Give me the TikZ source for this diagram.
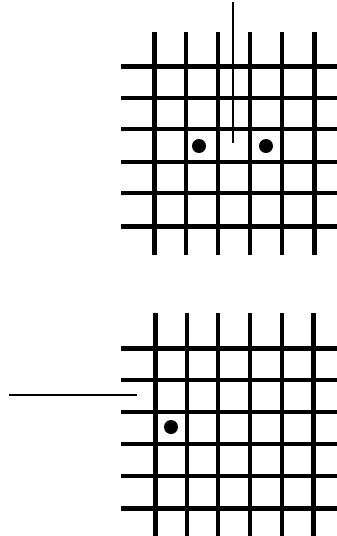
\documentclass[tikz,border=0pt]{standalone}
\begin{document}
\begin{tikzpicture}[x=1pt,y=-1pt,
  gridline/.style={line width=4.3pt,black},
  outerline/.style={line width=5pt,black},
  pointer/.style={line width=1.4pt,black},
  dot/.style={fill=black}]
\useasboundingbox (0,0) rectangle (337,536);
% ---- top grid ----
\foreach \x in {186,218,250,282} \draw[gridline] (\x,32) -- (\x,255);
\foreach \x in {154,314} \draw[outerline] (\x,32) -- (\x,255);
\foreach \y in {98,129,162,193} \draw[gridline] (121,\y) -- (337,\y);
\foreach \y in {66,226} \draw[outerline] (121,\y) -- (337,\y);
\fill[dot] (199,146) circle (7);
\fill[dot] (266,146) circle (7);
\coordinate (ta) at (233,2);
\coordinate (tb) at (233,143);
\draw[pointer] (ta) -- (tb);
% ---- bottom grid ----
\foreach \x in {187,218,250,282} \draw[gridline] (\x,313) -- (\x,536);
\foreach \x in {155,313} \draw[outerline] (\x,313) -- (\x,536);
\foreach \y in {380,412,444,476} \draw[gridline] (121,\y) -- (337,\y);
\foreach \y in {348,508} \draw[outerline] (121,\y) -- (337,\y);
\fill[dot] (171,427) circle (7);
\coordinate (ba) at (9,395);
\coordinate (bb) at (137,395);
\draw[pointer] (ba) -- (bb);
\end{tikzpicture}
\end{document}
